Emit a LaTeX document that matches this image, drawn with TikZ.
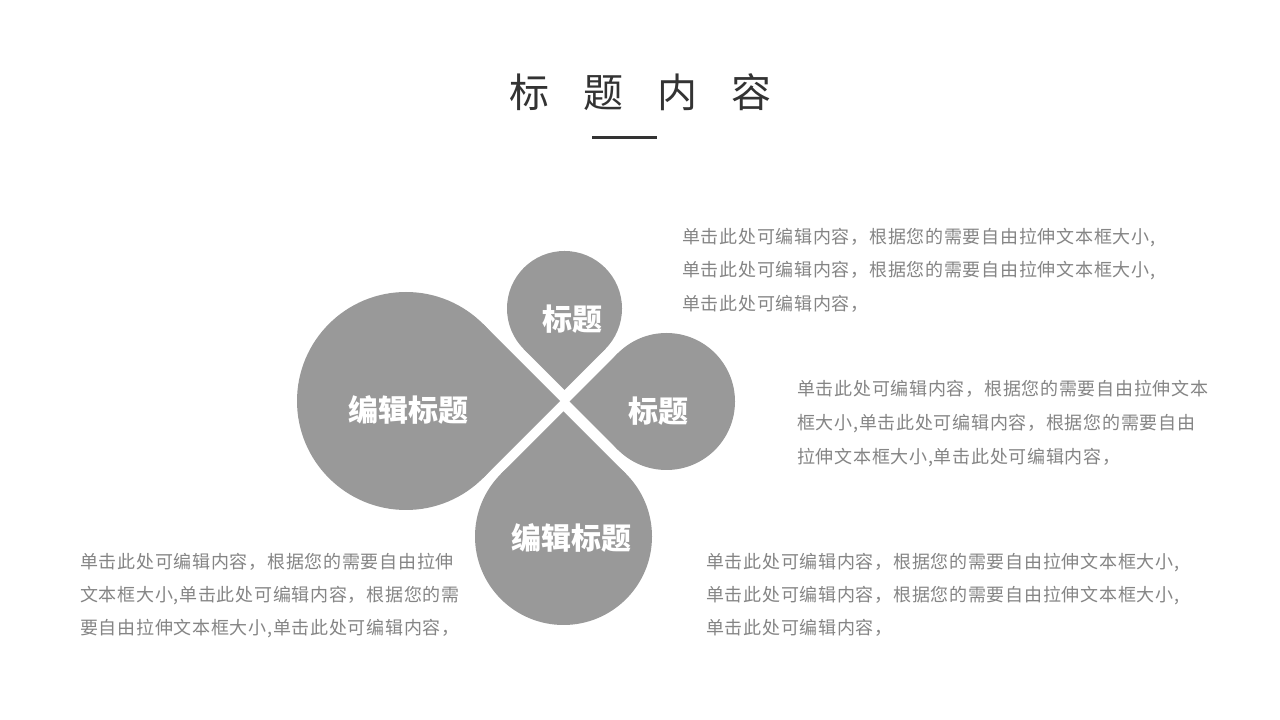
\documentclass[tikz,border=0pt]{standalone}
\usepackage{fontspec}
\newfontfamily\cjk{Noto Sans CJK SC}
\newfontfamily\cjkbody[LetterSpace=4]{Noto Sans CJK SC}
\definecolor{petal}{HTML}{999999}
\definecolor{bodytext}{HTML}{858585}
\definecolor{titletext}{HTML}{333333}
\begin{document}
\begin{tikzpicture}[x=1pt,y=1pt,
  petalfill/.style={fill=petal},
  petallabel/.style={text=white,font=\cjk\bfseries\fontsize{30}{30}\selectfont,inner sep=0},
  bodyline/.style={anchor=base west,inner sep=0,text=bodytext,font=\cjkbody\fontsize{18}{18}\selectfont},
  titlestyle/.style={inner sep=0,text=titletext,font=\cjk\fontsize{40}{40}\selectfont}]
\useasboundingbox[fill=white] (0,0) rectangle (1280,720);

% title
\node[titlestyle] (title) at (640,628) {标\hspace{34pt}题\hspace{34pt}内\hspace{34pt}容};
\coordinate (ulA) at (592,582);
\coordinate (ulB) at (657,582);
\draw[line width=3pt,titletext] (ulA) -- (ulB);

% left petal
\fill[petalfill] (406,319) circle[radius=109];
\fill[petalfill] (560.1,319) -- (483.1,396.1) -- (483.1,241.9) -- cycle;
% top petal
\fill[petalfill] (564.5,411.5) circle[radius=57.5];
\fill[petalfill] (564.5,330.2) -- (523.84,370.84) -- (605.16,370.84) -- cycle;
% right petal
\fill[petalfill] (666.5,318.5) circle[radius=68.5];
\fill[petalfill] (569.6,318.5) -- (618.06,366.94) -- (618.06,270.06) -- cycle;
% bottom petal
\fill[petalfill] (563.5,183.5) circle[radius=88.5];
\fill[petalfill] (563.5,308.7) -- (500.92,246.08) -- (626.08,246.08) -- cycle;

\node[petallabel] (lblL) at (408,310) {编辑标题};
\node[petallabel] (lblT) at (572,401) {标题};
\node[petallabel] (lblR) at (658,309) {标题};
\node[petallabel] (lblB) at (571,182.5) {编辑标题};

% top-right text
\node[bodyline] (a1) at (682,476) {单击此处可编辑内容，根据您的需要自由拉伸文本框大小,};
\node[bodyline] (a2) at (682,443) {单击此处可编辑内容，根据您的需要自由拉伸文本框大小,};
\node[bodyline] (a3) at (682,409) {单击此处可编辑内容，};
% right text
\node[bodyline] (b1) at (797,324) {单击此处可编辑内容，根据您的需要自由拉伸文本};
\node[bodyline] (b2) at (797,290) {框大小,单击此处可编辑内容，根据您的需要自由};
\node[bodyline] (b3) at (797,256) {拉伸文本框大小,单击此处可编辑内容，};
% bottom-left text
\node[bodyline] (c1) at (80,151) {单击此处可编辑内容，根据您的需要自由拉伸};
\node[bodyline] (c2) at (80,118) {文本框大小,单击此处可编辑内容，根据您的需};
\node[bodyline] (c3) at (80,85) {要自由拉伸文本框大小,单击此处可编辑内容，};
% bottom-right text
\node[bodyline] (d1) at (706,151) {单击此处可编辑内容，根据您的需要自由拉伸文本框大小,};
\node[bodyline] (d2) at (706,118) {单击此处可编辑内容，根据您的需要自由拉伸文本框大小,};
\node[bodyline] (d3) at (706,85) {单击此处可编辑内容，};
\end{tikzpicture}
\end{document}
